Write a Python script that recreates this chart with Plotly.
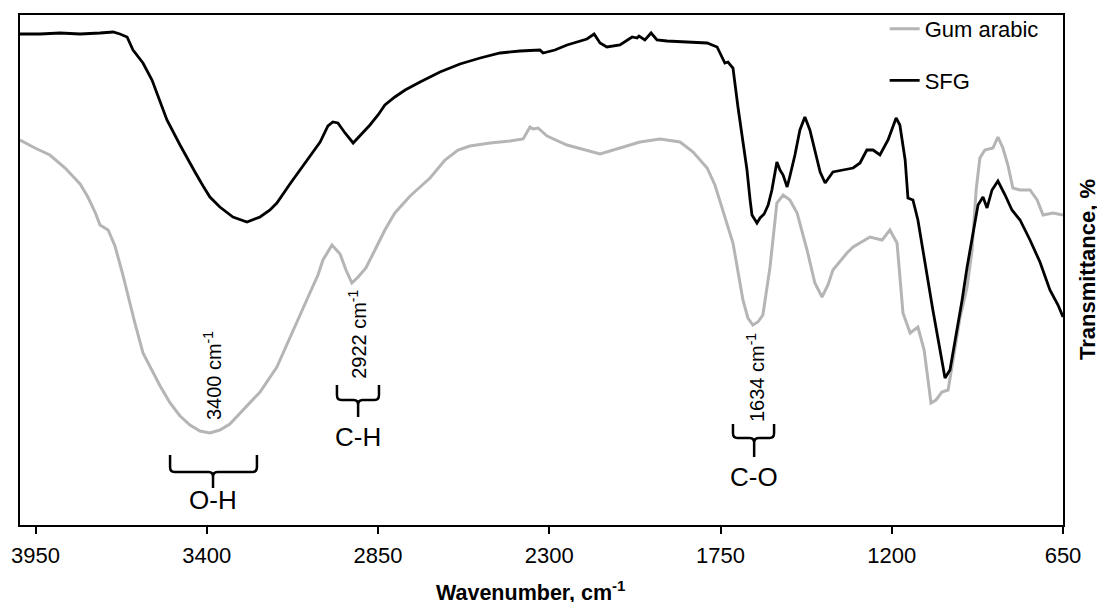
import plotly.graph_objects as go

# ---- data (wavenumber in cm-1, transmittance in arbitrary %) ----
sfg_wn = [4000, 3936, 3871, 3807, 3743, 3701, 3679, 3656, 3637, 3605, 3576, 3550, 3528,
          3486, 3460, 3438, 3412, 3390, 3358, 3316, 3271, 3229, 3197, 3175, 3133, 3101,
          3069, 3036, 3011, 2995, 2979, 2956, 2930, 2908, 2876, 2850, 2828, 2796, 2763,
          2715, 2651, 2587, 2522, 2458, 2394, 2330, 2320, 2282, 2243, 2179, 2156, 2137,
          2115, 2073, 2034, 2018, 2012, 1993, 1973, 1954, 1922, 1858, 1793, 1761, 1745,
          1736, 1726, 1710, 1694, 1684, 1675, 1665, 1655, 1649, 1639, 1633, 1623, 1610,
          1597, 1585, 1569, 1559, 1549, 1536, 1527, 1511, 1495, 1479, 1463, 1447, 1430,
          1414, 1389, 1357, 1324, 1302, 1280, 1260, 1238, 1212, 1186, 1174, 1157, 1148,
          1132, 1116, 1093, 1068, 1045, 1029, 1013, 990, 974, 958, 942, 923, 907, 894,
          878, 859, 836, 814, 788, 756, 724, 692, 666, 650]
sfg_t = [98.2, 98.2, 98.4, 98.2, 98.4, 98.6, 98.2, 97.6, 95.0, 92.4, 89.0, 84.8, 81.0,
         76.0, 73.0, 70.6, 67.8, 65.6, 63.6, 61.6, 60.6, 61.6, 63.0, 64.4, 68.2, 71.0,
         73.6, 76.6, 79.8, 80.6, 80.4, 78.4, 76.4, 77.8, 80.0, 82.0, 84.0, 85.6, 87.0,
         88.6, 90.6, 92.2, 93.4, 94.4, 94.8, 95.0, 94.4, 95.0, 96.0, 97.2, 98.2, 96.4,
         95.6, 96.0, 97.6, 97.4, 97.8, 97.0, 98.4, 97.0, 96.8, 96.6, 96.4, 95.6, 93.6,
         92.4, 92.6, 91.4, 83.6, 79.0, 75.0, 71.0, 65.0, 62.0, 61.0, 60.4, 61.4, 62.2,
         64.0, 67.0, 72.6, 71.0, 70.0, 67.6, 69.8, 74.0, 79.0, 81.6, 79.0, 75.0, 70.6,
         68.4, 70.6, 71.0, 71.4, 72.4, 75.0, 75.0, 74.0, 77.0, 81.4, 80.0, 73.0, 65.4,
         65.0, 61.0, 52.0, 43.0, 35.0, 29.4, 31.0, 39.0, 45.0, 51.6, 57.0, 64.0, 65.6, 63.4,
         67.0, 68.8, 66.0, 63.0, 61.0, 57.0, 52.6, 47.0, 44.0, 41.6]

gum_wn = [4000, 3952, 3904, 3855, 3807, 3782, 3759, 3743, 3717, 3695, 3672, 3656, 3631,
          3605, 3582, 3550, 3518, 3486, 3454, 3422, 3390, 3358, 3326, 3284, 3229, 3175,
          3133, 3101, 3069, 3043, 3027, 2998, 2972, 2953, 2934, 2914, 2889, 2860, 2828,
          2796, 2747, 2715, 2683, 2635, 2593, 2555, 2490, 2426, 2384, 2362, 2352, 2336,
          2307, 2243, 2185, 2137, 2073, 2009, 1944, 1880, 1838, 1793, 1768, 1742, 1710,
          1678, 1662, 1646, 1630, 1614, 1591, 1569, 1549, 1527, 1504, 1472, 1447, 1424,
          1405, 1389, 1344, 1324, 1270, 1231, 1206, 1183, 1164, 1141, 1116, 1096, 1087,
          1074, 1058, 1039, 1019, 1003, 981, 958, 942, 929, 917, 901, 875, 859, 843, 827,
          811, 788, 756, 733, 714, 682, 650]
gum_t = [77.0, 75.4, 74.0, 71.4, 68.2, 65.6, 62.6, 60.0, 59.0, 55.8, 50.6, 46.4, 40.4,
         34.4, 31.6, 27.8, 24.4, 21.8, 20.0, 18.8, 18.4, 19.0, 20.2, 23.0, 26.6, 31.6,
         37.6, 42.0, 46.4, 50.0, 53.0, 56.0, 54.2, 51.0, 48.4, 49.6, 51.4, 55.0, 59.0,
         62.4, 65.8, 67.6, 69.4, 73.0, 75.0, 75.8, 76.4, 76.8, 77.2, 79.6, 79.2, 79.4,
         77.8, 76.0, 75.0, 74.2, 75.4, 76.6, 77.2, 76.6, 74.6, 71.4, 68.0, 63.0, 56.4,
         45.0, 41.4, 40.0, 40.6, 42.0, 51.6, 64.4, 66.0, 65.0, 62.4, 55.0, 48.4, 45.6,
         48.0, 51.0, 54.4, 55.6, 57.6, 57.0, 59.0, 56.4, 42.4, 38.4, 39.6, 35.0, 30.4,
         24.4, 25.0, 26.6, 27.0, 33.0, 41.4, 47.6, 55.0, 67.0, 73.4, 75.0, 75.4, 77.6, 75.4,
         72.0, 67.4, 67.0, 67.0, 65.0, 62.0, 62.4, 62.0]

tick_vals = [3950, 3400, 2850, 2300, 1750, 1200, 650]

# peak labels (rotated)
peak_text = ["3400 cm<sup>-1</sup>", "2922 cm<sup>-1</sup>", "1634 cm<sup>-1</sup>"]
peak_x = [3383, 2918, 1639]
peak_y = [29.8, 38.2, 29.4]

# group braces
group_names = ["O-H", "C-H", "C-O"]
brace_left = [3518, 2982, 1710]
brace_right = [3239, 2847, 1578]
brace_center = [3380, 2914, 1642]
brace_top = [14.0, 28.0, 20.2]
brace_bottom = [10.6, 25.0, 17.4]
brace_stem = [7.4, 21.6, 13.6]
group_label_y = [5.0, 17.6, 9.6]

FONT = "Liberation Sans, Arial, Helvetica, sans-serif"

fig = go.Figure()
fig.add_trace(go.Scatter(x=gum_wn, y=gum_t, mode="lines", name="Gum arabic",
                         legendgroup="a", line=dict(color="#b5b5b5", width=3)))
fig.add_trace(go.Scatter(x=sfg_wn, y=sfg_t, mode="lines", name="SFG",
                         legendgroup="b", line=dict(color="#000000", width=2.8)))

for t, x, y in zip(peak_text, peak_x, peak_y):
    fig.add_annotation(x=x, y=y, xref="x", yref="y", text=t, textangle=-90,
                       showarrow=False, font=dict(family=FONT, size=20, color="black"))

for name, xl, xr, xc, yt, yb, ys, yl in zip(group_names, brace_left, brace_right,
                                            brace_center, brace_top, brace_bottom,
                                            brace_stem, group_label_y):
    d = 14.0   # corner size along wavenumber
    r = 1.0    # corner size along transmittance
    path = (f"M {xl},{yt} L {xl},{yb + r} Q {xl},{yb} {xl - d},{yb} "
            f"L {xc + d},{yb} Q {xc},{yb} {xc},{yb - r} L {xc},{ys} "
            f"M {xr},{yt} L {xr},{yb + r} Q {xr},{yb} {xr + d},{yb} "
            f"L {xc - d},{yb} Q {xc},{yb} {xc},{yb - r}")
    fig.add_shape(type="path", path=path, xref="x", yref="y",
                  line=dict(color="black", width=2.5))
    fig.add_annotation(x=xc, y=yl, xref="x", yref="y", text=name, showarrow=False,
                       font=dict(family=FONT, size=26, color="black"))

fig.add_annotation(x=0.489, y=-0.129, xref="paper", yref="paper",
                   text="<b>Wavenumber, cm<sup>-1</sup></b>", showarrow=False,
                   xanchor="center", yanchor="middle",
                   font=dict(family=FONT, size=21.5, color="black"))
fig.add_annotation(x=1.0, xshift=24, y=0.5, xref="paper", yref="paper",
                   text="<b>Transmittance, %</b>", textangle=-90, showarrow=False,
                   xanchor="center", yanchor="middle",
                   font=dict(family=FONT, size=22, color="black"))

# the page body has an 8px margin; keep the figure inside the window (no overflow)
fig.update_layout(
    width=1089, height=594,
    margin=dict(l=12, r=34, t=7, b=77, autoexpand=False),
    paper_bgcolor="white", plot_bgcolor="white",
    font=dict(family=FONT, size=22, color="black"),
    showlegend=True,
    legend=dict(x=0.829, y=1.0, xanchor="left", yanchor="top",
                xref="paper", yref="container",
                bgcolor="rgba(0,0,0,0)", borderwidth=0,
                traceorder="grouped", tracegroupgap=20,
                font=dict(family=FONT, size=22, color="black")),
    xaxis=dict(range=[4000, 650], tickvals=tick_vals, ticks="outside", ticklen=7,
               tickwidth=2, tickcolor="black", showgrid=False, zeroline=False,
               showline=True, linecolor="black", linewidth=2, mirror=True,
               ticklabelstandoff=3,
               tickfont=dict(family=FONT, size=22, color="black")),
    yaxis=dict(range=[0, 102], showticklabels=False, ticks="", showgrid=False,
               zeroline=False, showline=True, linecolor="black", linewidth=2,
               mirror=True),
)

fig.write_html("out.html")
